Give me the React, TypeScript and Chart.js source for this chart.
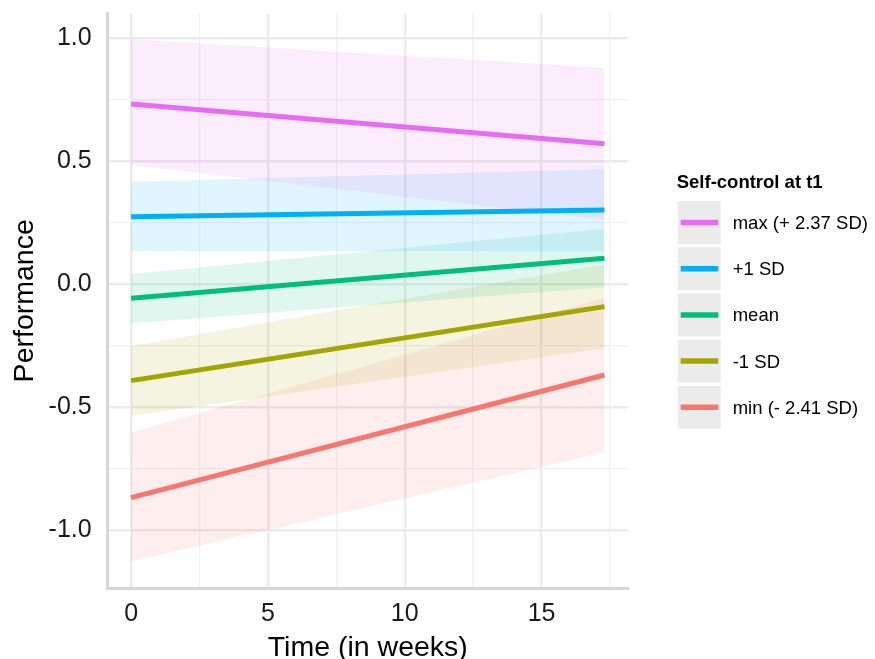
import React, { useEffect, useRef } from 'react';
import { Chart, registerables } from 'chart.js';

Chart.register(...registerables);

const FONT = '"Liberation Sans", Arial, Helvetica, sans-serif';

// ---- data ----
const timeWeeks = [0, 17.3];
const legendTitle = 'Self-control at t1';
const seriesLabels = ['max (+ 2.37 SD)', '+1 SD', 'mean', '-1 SD', 'min (- 2.41 SD)'];
const seriesColors = ['#E76BF3', '#00B0F6', '#00BF7D', '#A3A500', '#F8766D'];

const fitMax = [0.733, 0.572];
const lowMax = [0.485, 0.262];
const highMax = [0.997, 0.881];

const fitPlus1 = [0.275, 0.302];
const lowPlus1 = [0.135, 0.133];
const highPlus1 = [0.417, 0.469];

const fitMean = [-0.057, 0.106];
const lowMean = [-0.159, -0.012];
const highMean = [0.042, 0.226];

const fitMinus1 = [-0.392, -0.091];
const lowMinus1 = [-0.536, -0.26];
const highMinus1 = [-0.251, 0.081];

const fitMin = [-0.868, -0.369];
const lowMin = [-1.128, -0.683];
const highMin = [-0.604, -0.055];

const xMajorTicks = [0, 5, 10, 15];
const xMinorTicks = [2.5, 7.5, 12.5, 17.5];
const yMajorTicks = [-1, -0.5, 0, 0.5, 1];
const yMinorTicks = [-0.75, -0.25, 0.25, 0.75];

const xTitle = 'Time (in weeks)';
const yTitle = 'Performance';

const fits = [fitMax, fitPlus1, fitMean, fitMinus1, fitMin];
const lows = [lowMax, lowPlus1, lowMean, lowMinus1, lowMin];
const highs = [highMax, highPlus1, highMean, highMinus1, highMin];

const toPts = (ys: number[]) => ys.map((y, i) => ({ x: timeWeeks[i], y }));

function hexA(hex: string, a: number) {
  const n = parseInt(hex.slice(1), 16);
  return `rgba(${(n >> 16) & 255},${(n >> 8) & 255},${n & 255},${a})`;
}

const isIn = (arr: number[], v: number) => arr.some((t) => Math.abs(t - v) < 1e-9);

const legendPlugin = {
  id: 'ggLegend',
  afterDraw(chart: any) {
    const ctx = chart.ctx as CanvasRenderingContext2D;
    const x0 = chart.chartArea.right + 49.4;
    ctx.save();
    ctx.fillStyle = '#000';
    ctx.font = `bold 18.5px ${FONT}`;
    ctx.textAlign = 'left';
    ctx.textBaseline = 'alphabetic';
    ctx.fillText(legendTitle, x0 - 1, 188.3);
    seriesLabels.forEach((lab, i) => {
      const top = 201 + i * 46.2;
      const cy = top + 21.5;
      ctx.fillStyle = '#EBEBEB';
      ctx.fillRect(x0, top, 43, 43);
      ctx.strokeStyle = seriesColors[i];
      ctx.lineWidth = 5.5;
      ctx.lineCap = 'butt';
      ctx.beginPath();
      ctx.moveTo(x0 + 3, cy);
      ctx.lineTo(x0 + 40.6, cy);
      ctx.stroke();
      ctx.fillStyle = '#000';
      ctx.font = `18.5px ${FONT}`;
      ctx.textBaseline = 'middle';
      ctx.fillText(lab, x0 + 55, cy + 1.5);
    });
    ctx.restore();
  },
};

export default function App() {
  const canvasRef = useRef<HTMLCanvasElement | null>(null);

  useEffect(() => {
    const canvas = canvasRef.current;
    if (!canvas) return;

    const datasets: any[] = [];
    seriesLabels.forEach((lab, i) => {
      datasets.push({
        label: lab + ' upper',
        data: toPts(highs[i]),
        borderWidth: 0,
        pointRadius: 0,
        backgroundColor: hexA(seriesColors[i], 0.12),
        fill: '+1',
        order: 1,
      });
      datasets.push({
        label: lab + ' lower',
        data: toPts(lows[i]),
        borderWidth: 0,
        pointRadius: 0,
        fill: false,
        order: 1,
      });
    });
    seriesLabels.forEach((lab, i) => {
      datasets.push({
        label: lab,
        data: toPts(fits[i]),
        borderColor: seriesColors[i],
        borderWidth: 5,
        pointRadius: 0,
        fill: false,
        tension: 0,
        order: 0,
      });
    });

    const gridColor = (major: number[]) => (c: any) =>
      isIn(major, c.tick?.value) ? '#EBEBEB' : '#F1F1F1';
    const gridWidth = (major: number[]) => (c: any) =>
      isIn(major, c.tick?.value) ? 2.4 : 1.3;

    const chart = new Chart(canvas, {
      type: 'line',
      data: { datasets },
      plugins: [legendPlugin],
      options: {
        animation: false,
        responsive: false,
        devicePixelRatio: 1,
        layout: { padding: { top: 13.3, right: 246.7, bottom: 0, left: 0 } },
        plugins: {
          legend: { display: false },
          tooltip: { enabled: false },
        },
        scales: {
          x: {
            type: 'linear',
            min: -0.87,
            max: 18.17,
            afterBuildTicks: (scale: any) => {
              scale.ticks = [...xMajorTicks, ...xMinorTicks]
                .sort((a, b) => a - b)
                .map((v) => ({ value: v }));
            },
            afterFit: (scale: any) => {
              scale.height = 70.7;
              scale.paddingLeft = 0;
              scale.paddingRight = 0;
            },
            grid: {
              color: gridColor(xMajorTicks),
              lineWidth: gridWidth(xMajorTicks),
              drawTicks: false,
            },
            border: { display: true, color: '#D6D6D6', width: 3 },
            ticks: {
              autoSkip: false,
              maxRotation: 0,
              padding: 11,
              color: '#1A1A1A',
              font: { family: FONT, size: 25 },
              callback: (v: any) => (isIn(xMajorTicks, Number(v)) ? String(v) : ''),
            },
            title: {
              display: true,
              text: xTitle,
              color: '#000',
              font: { family: FONT, size: 28.5, lineHeight: 0.75 },
              padding: 0,
            },
          },
          y: {
            type: 'linear',
            min: -1.237,
            max: 1.1025,
            afterBuildTicks: (scale: any) => {
              scale.ticks = [...yMajorTicks, ...yMinorTicks]
                .sort((a, b) => a - b)
                .map((v) => ({ value: v }));
            },
            afterFit: (scale: any) => {
              scale.width = 107.3;
              scale.paddingTop = 0;
              scale.paddingBottom = 0;
            },
            grid: {
              color: gridColor(yMajorTicks),
              lineWidth: gridWidth(yMajorTicks),
              drawTicks: false,
            },
            border: { display: true, color: '#D6D6D6', width: 3 },
            ticks: {
              autoSkip: false,
              padding: 15.6,
              color: '#1A1A1A',
              font: { family: FONT, size: 25 },
              callback: (v: any) =>
                isIn(yMajorTicks, Number(v)) ? Number(v).toFixed(1) : '',
            },
            title: {
              display: true,
              text: yTitle,
              color: '#000',
              font: { family: FONT, size: 28.5, lineHeight: 1.2 },
              padding: { top: 8, bottom: 0 },
            },
          },
        },
      },
    } as any);

    return () => chart.destroy();
  }, []);

  return (
    <div
      style={{
        position: 'fixed',
        left: 0,
        top: 0,
        width: 875,
        height: 659,
        background: '#fff',
        overflow: 'hidden',
      }}
    >
      <canvas
        ref={canvasRef}
        width={875}
        height={659}
        style={{ width: 875, height: 659, display: 'block' }}
      />
    </div>
  );
}
